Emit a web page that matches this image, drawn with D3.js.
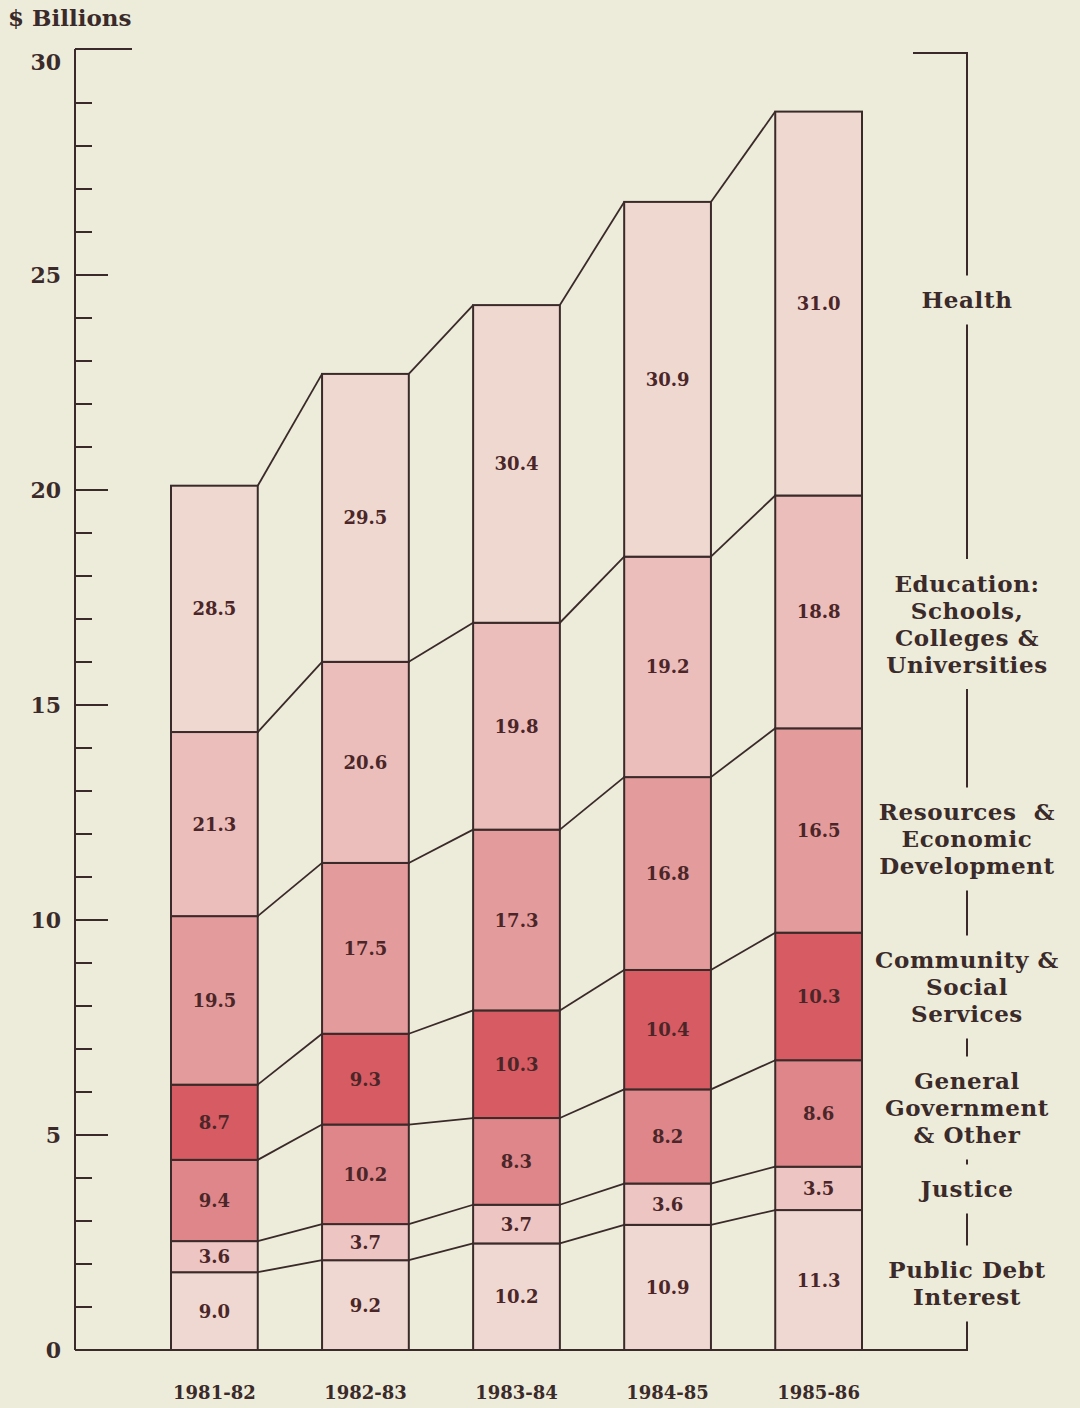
<!DOCTYPE html>
<html>
<head>
<meta charset="utf-8">
<script src="https://cdn.jsdelivr.net/npm/d3@7"></script>
<style>
  html, body { margin: 0; padding: 0; background: #edecda; }
  svg { display: block; }
  text { font-family: "DejaVu Serif", serif; font-weight: bold; }
</style>
</head>
<body>
<svg id="chart" width="1080" height="1408"></svg>
<script>
// Fiscal years and total spending ($ billions)
const years = ["1981-82", "1982-83", "1983-84", "1984-85", "1985-86"];
const totals = [20.1, 22.7, 24.3, 26.7, 28.8];

// Share of total spending by function (%), bottom to top of each bar
const publicDebt = [9.0, 9.2, 10.2, 10.9, 11.3];
const justice    = [3.6, 3.7, 3.7, 3.6, 3.5];
const generalGov = [9.4, 10.2, 8.3, 8.2, 8.6];
const community  = [8.7, 9.3, 10.3, 10.4, 10.3];
const resources  = [19.5, 17.5, 17.3, 16.8, 16.5];
const education  = [21.3, 20.6, 19.8, 19.2, 18.8];
const health     = [28.5, 29.5, 30.4, 30.9, 31.0];

const categories = ["Public Debt Interest", "Justice", "General Government & Other",
  "Community & Social Services", "Resources & Economic Development",
  "Education: Schools, Colleges & Universities", "Health"];
const shares = [publicDebt, justice, generalGov, community, resources, education, health];

// Legend wording, line by line
const legendLines = [
  ["Public Debt", "Interest"],
  ["Justice"],
  ["General", "Government", "& Other"],
  ["Community &", "Social", "Services"],
  ["Resources  &", "Economic", "Development"],
  ["Education:", "Schools,", "Colleges &", "Universities"],
  ["Health"]
];

const yTicks = [0, 5, 10, 15, 20, 25, 30];

const fills = ["#efd8d1", "#edc5c3", "#de868a", "#d75b62", "#e49b9c", "#ebbdbb", "#efd8d0"];
const ink = "#3a2a29";

const svg = d3.select("#chart");

const x = d3.scaleBand().domain(years).range([171, 862]).paddingInner(0.4257).paddingOuter(0);
const y = d3.scaleLinear().domain([0, 30]).range([1350, 60]);
const bw = x.bandwidth();

// Rows of $ billions per category, derived from each share and the year's total
const rows = years.map((yr, i) => {
  const r = { year: yr };
  categories.forEach((c, k) => { r[c] = shares[k][i] * totals[i] / 100; });
  return r;
});
const stacked = d3.stack().keys(categories)(rows);

// Axis frame
const axisX = 75;
const axisTop = y(30) - 11;
svg.append("line").attr("x1", axisX).attr("x2", axisX).attr("y1", axisTop).attr("y2", y(0))
  .attr("stroke", ink).attr("stroke-width", 2);
svg.append("line").attr("x1", axisX).attr("x2", 132).attr("y1", axisTop).attr("y2", axisTop)
  .attr("stroke", ink).attr("stroke-width", 2);
svg.append("line").attr("x1", axisX).attr("x2", 968).attr("y1", y(0)).attr("y2", y(0))
  .attr("stroke", ink).attr("stroke-width", 2);

// Tick marks: long at every 5, short at each billion
const tickVals = d3.range(1, 30);
svg.append("g").selectAll("line").data(tickVals).join("line")
  .attr("x1", axisX).attr("x2", d => d % 5 === 0 ? 108 : 92)
  .attr("y1", d => y(d)).attr("y2", d => y(d))
  .attr("stroke", ink).attr("stroke-width", 2);

svg.append("g").selectAll("text").data(yTicks).join("text")
  .attr("x", 61).attr("y", d => y(d) + (d === 30 ? 2 : 0)).attr("dy", "0.36em")
  .attr("text-anchor", "end").attr("font-size", 22).attr("fill", ink)
  .text(d => d);

svg.append("text").attr("x", 8).attr("y", 26).attr("font-size", 23).attr("fill", ink)
  .text("$ Billions");

// Connecting lines between matching segment tops of neighbouring bars
stacked.forEach(series => {
  for (let i = 0; i < series.length - 1; i++) {
    svg.append("line")
      .attr("x1", x(years[i]) + bw).attr("y1", y(series[i][1]))
      .attr("x2", x(years[i + 1])).attr("y2", y(series[i + 1][1]))
      .attr("stroke", ink).attr("stroke-width", 1.8);
  }
});

// Stacked segments
const groups = svg.append("g").selectAll("g").data(stacked).join("g")
  .attr("fill", (d, k) => fills[k]);
groups.selectAll("rect").data(d => d).join("rect")
  .attr("x", d => x(d.data.year))
  .attr("y", d => y(d[1]))
  .attr("width", bw)
  .attr("height", d => y(d[0]) - y(d[1]))
  .attr("stroke", ink).attr("stroke-width", 2);

// Share labels inside segments
const fmt = d3.format(".1f");
stacked.forEach((series, k) => {
  svg.append("g").selectAll("text").data(series).join("text")
    .attr("x", d => x(d.data.year) + bw / 2)
    .attr("y", d => (y(d[0]) + y(d[1])) / 2)
    .attr("dy", "0.36em").attr("text-anchor", "middle")
    .attr("font-size", 18).attr("fill", "#4a2628")
    .text((d, i) => fmt(shares[k][i]));
});

// Year labels
svg.append("g").selectAll("text").data(years).join("text")
  .attr("x", d => x(d) + bw / 2).attr("y", 1399)
  .attr("text-anchor", "middle").attr("font-size", 18).attr("fill", ink)
  .text(d => d);

// Right-hand legend with a bracket broken around each label
const legX = 967;
const lineH = 27;
const legendCenters = [1283.5, 1189, 1108, 987, 839, 624, 300];
const blocks = legendLines.map((lines, k) => {
  const cy = legendCenters[k];
  const h = lines.length * lineH;
  return { lines, cy, top: cy - h / 2, bottom: cy + h / 2 };
});

const legend = svg.append("g");
blocks.forEach(b => {
  legend.append("g").selectAll("text").data(b.lines).join("text")
    .attr("x", legX)
    .attr("y", (d, j) => b.top + lineH * (j + 0.5))
    .attr("dy", "0.36em").attr("text-anchor", "middle")
    .attr("font-size", 23).attr("letter-spacing", 0.6).attr("fill", ink)
    .style("white-space", "pre")
    .text(d => d);
});

const pad = 11;
const bracketTop = 53;
const ordered = blocks.slice().sort((a, b) => a.top - b.top);
const segs = [];
segs.push([bracketTop, ordered[0].top - pad]);
for (let i = 0; i < ordered.length - 1; i++) {
  segs.push([ordered[i].bottom + pad, ordered[i + 1].top - pad]);
}
segs.push([ordered[ordered.length - 1].bottom + pad, y(0)]);
legend.append("g").selectAll("line").data(segs).join("line")
  .attr("x1", legX).attr("x2", legX)
  .attr("y1", d => d[0]).attr("y2", d => d[1])
  .attr("stroke", ink).attr("stroke-width", 2);
legend.append("line").attr("x1", 913).attr("x2", legX + 1)
  .attr("y1", bracketTop).attr("y2", bracketTop)
  .attr("stroke", ink).attr("stroke-width", 2);
</script>
</body>
</html>
